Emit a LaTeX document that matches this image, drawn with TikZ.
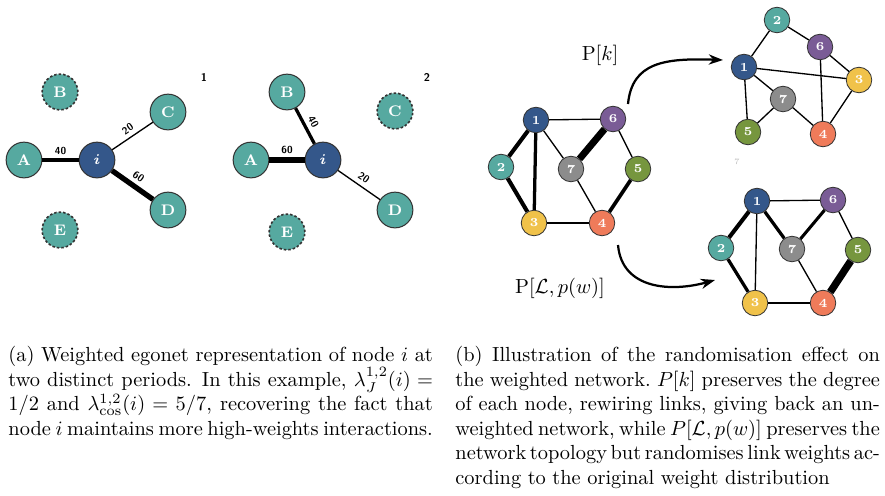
\documentclass[tikz,border=0pt]{standalone}
\usepackage{amsmath,amssymb}
\usetikzlibrary{arrows.meta,positioning}

\definecolor{egoblue}{HTML}{34578A}
\definecolor{egoteal}{HTML}{56A9A0}
\definecolor{netyellow}{HTML}{F0C24A}
\definecolor{netorange}{HTML}{EF7B5A}
\definecolor{netgreen}{HTML}{76963E}
\definecolor{netpurple}{HTML}{7A5C96}
\definecolor{netgray}{HTML}{8C8C8C}

\newcommand{\capline}[1]{\makebox[\linewidth][s]{#1}}

\tikzset{
  ego/.style={circle, draw=black!80, line width=0.5pt, fill=egoteal, minimum size=17.5pt,
    inner sep=0pt, text=white, font=\fontsize{7.5}{8}\selectfont\bfseries},
  gone/.style={ego, dashed, line width=0.8pt, dash pattern=on 1.2pt off 1pt},
  wlabel/.style={sloped, above, inner sep=2pt, font=\fontsize{5}{6}\selectfont\sffamily\bfseries},
  period/.style={font=\fontsize{5.5}{6}\selectfont\sffamily\bfseries},
  net/.style={circle, draw=black!80, line width=0.4pt, minimum size=12.5pt, inner sep=0pt,
    text=white, font=\fontsize{6}{7}\selectfont\bfseries},
  randarrow/.style={-{Stealth[length=7pt,width=5pt]}, line width=1.1pt},
  captext/.style={anchor=north west, inner sep=0pt, text width=208pt, align=justify,
    font=\normalsize},
}

\begin{document}
\begin{tikzpicture}[x=0.49pt, y=-0.49pt]

  \useasboundingbox (0,0) rectangle (885,495);

  % === (a) egonet, period 1 ===
  \node[ego, fill=egoblue] (i1) at (97,160) {$\boldsymbol{i}$};
  \node[ego]  (a1) at (24,160) {A};
  \node[gone] (b1) at (60,92)  {B};
  \node[ego]  (c1) at (168,112) {C};
  \node[ego]  (d1) at (168,210) {D};
  \node[gone] (e1) at (60,230) {E};
  \draw[line width=1.6pt] (a1) -- node[wlabel] {40} (i1);
  \draw[line width=0.65pt] (i1) -- node[wlabel] {20} (c1);
  \draw[line width=2.6pt] (i1) -- node[wlabel] {60} (d1);
  \node[period] (p1) at (204,77) {1};

  % === (a) egonet, period 2 ===
  \node[ego, fill=egoblue] (i2) at (323,160) {$\boldsymbol{i}$};
  \node[ego]  (a2) at (251,160) {A};
  \node[ego]  (b2) at (287,92)  {B};
  \node[gone] (c2) at (395,111) {C};
  \node[ego]  (d2) at (395,210) {D};
  \node[gone] (e2) at (287,232) {E};
  \draw[line width=2.6pt] (a2) -- node[wlabel] {60} (i2);
  \draw[line width=1.6pt] (b2) -- node[wlabel] {40} (i2);
  \draw[line width=0.65pt] (i2) -- node[wlabel] {20} (d2);
  \node[period] (p2) at (427,77) {2};

  % === (b) original weighted network ===
  \foreach \n/\x/\y/\c in {1/536/120/egoblue, 2/501/167/egoteal, 3/534/223/netyellow,
      4/602/223/netorange, 5/638/169/netgreen, 6/613/119/netpurple, 7/571/169/netgray}
    \node[net, fill=\c] (m\n) at (\x,\y) {\n};
  \foreach \a/\b/\w in {1/6/0.65, 1/2/2.0, 1/3/1.6, 1/7/0.65, 2/3/2.0, 3/4/1.3,
      6/7/3.4, 6/5/0.65, 7/4/0.65, 5/4/1.8}
    \draw[line width=\w pt] (m\a) -- (m\b);

  % === (b) degree preserving rewiring ===
  \foreach \n/\x/\y/\c in {1/744/67/egoblue, 2/777/20/egoteal, 3/859/80/netyellow,
      4/823/134/netorange, 5/748/132/netgreen, 6/820/47/netpurple, 7/783/99/netgray}
    \node[net, fill=\c] (t\n) at (\x,\y) {\n};
  \foreach \a/\b in {2/1, 2/6, 6/3, 6/4, 1/3, 1/7, 1/5, 7/5, 7/4, 3/4}
    \draw[line width=0.65pt] (t\a) -- (t\b);

  % === (b) weight reshuffling ===
  \foreach \n/\x/\y/\c in {1/757/201/egoblue, 2/721/248/egoteal, 3/755/303/netyellow,
      4/823/303/netorange, 5/858/250/netgreen, 6/833/200/netpurple, 7/792/249/netgray}
    \node[net, fill=\c] (r\n) at (\x,\y) {\n};
  \foreach \a/\b/\w in {1/6/0.65, 1/2/2.0, 1/3/0.65, 1/7/1.6, 2/3/1.6, 3/4/1.3,
      6/7/1.5, 6/5/0.65, 7/4/0.65, 5/4/3.6}
    \draw[line width=\w pt] (r\a) -- (r\b);

  % arrows and labels
  \coordinate (up0) at (628,104);
  \coordinate (up1) at (723,60);
  \coordinate (dn0) at (618,245);
  \coordinate (dn1) at (715,280);
  \draw[randarrow] (up0) .. controls (632,62) and (665,58) .. (up1);
  \draw[randarrow] (dn0) .. controls (622,290) and (672,292) .. (dn1);
  \node (pk) at (600,55) {$\mathrm{P}[k]$};
  \node (plw) at (560,288) {$\mathrm{P}[\mathcal{L},p(w)]$};
  \node[text=black!25, font=\fontsize{4}{4}\selectfont] (spec) at (737,162) {7};

  % === captions ===
  \node[captext] (capa) at (8,346) {(a) Weighted egonet representation of node $i$ at
    two distinct periods. In this example, $\lambda_J^{1,2}(i) = 1/2$ and
    $\lambda_{\cos}^{1,2}(i) = 5/7$, recovering the fact that node $i$ maintains more
    high-weights interactions.};
  \node[captext, align=left] (capb) at (455,346) {\frenchspacing
    \spaceskip=3.2pt plus 2pt minus 1.8pt\hfuzz=20pt
    \capline{(b) Illustration of the randomisation effect on}\\
    \capline{the weighted network. $P[k]$ preserves the degree}\\
    \capline{of each node, rewiring links, giving back an un-}\\
    \capline{weighted network, while $P[\mathcal{L}, p(w)]$ preserves the}\\
    \capline{network topology but randomises link weights ac-}\\
    cording to the original weight distribution};

\end{tikzpicture}
\end{document}
